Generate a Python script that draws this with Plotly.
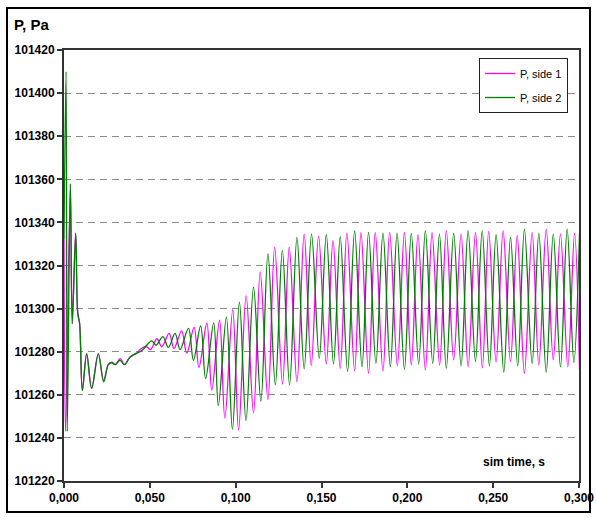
import plotly.graph_objects as go

# ---- data ----
t_side1 = [0, 0.0009, 0.0037, 0.0048, 0.0068, 0.0080, 0.0091, 0.0107, 0.0132, 0.0161,
           0.0200, 0.0231, 0.0258, 0.0280, 0.0300, 0.0327, 0.0352, 0.0380, 0.0400, 0.0420, 0.0443,
           0.0478, 0.0504, 0.0541, 0.0570, 0.0612, 0.0641, 0.0685, 0.0715, 0.0758, 0.0786,
           0.0832, 0.0861, 0.0906, 0.0937, 0.0983, 0.1017, 0.1061, 0.1104, 0.1143, 0.1188,
           0.1227, 0.1273, 0.1312, 0.1357, 0.1399, 0.1440, 0.1483, 0.1528, 0.1567, 0.1609,
           0.1648, 0.1693, 0.1730, 0.1774, 0.1813, 0.1858, 0.1897, 0.1942, 0.1983, 0.2023,
           0.2062, 0.2105, 0.2144, 0.2188, 0.2227, 0.2270, 0.2313, 0.2354, 0.2397, 0.2437,
           0.2474, 0.2517, 0.2558, 0.2601, 0.2640, 0.2682, 0.2727, 0.2766, 0.2809, 0.2850,
           0.2892, 0.2935, 0.2974, 0.3003]
p_side1 = [101332, 101243, 101357, 101293, 101335, 101298, 101293, 101262, 101279, 101263,
           101279, 101266.5, 101274, 101275, 101274, 101276.8, 101274, 101277, 101278.3, 101279, 101281,
           101282.5, 101281, 101286, 101282.3, 101288.5, 101281.5, 101289.7, 101279.3, 101291.3, 101272.7,
           101293.2, 101262.2, 101294.6, 101249.2, 101299.5, 101243.7, 101306, 101251.5, 101317, 101257.7,
           101328.5, 101265, 101328.5, 101266, 101334.5, 101273.6, 101333.5, 101274.3, 101331.5, 101272.3,
           101335, 101271.2, 101335.2, 101270, 101335.2, 101271, 101335.4, 101273.5, 101335.2, 101273.8,
           101334.3, 101271.5, 101335.2, 101273.8, 101336.2, 101276.2, 101334.6, 101273, 101335.2, 101272.5,
           101335.8, 101275.2, 101336.2, 101275.4, 101333.8, 101270, 101335.4, 101273.8, 101336.9, 101276.2,
           101334.6, 101273, 101334.9, 101272]

t_side2 = [0, 0.0012, 0.0019, 0.0037, 0.0048, 0.0068, 0.0080, 0.0091, 0.0107, 0.0132,
           0.0161, 0.0200, 0.0231, 0.0258, 0.0278, 0.0297, 0.0327, 0.0352, 0.0385, 0.0414,
           0.0443, 0.0466,
           0.0511, 0.0536, 0.0576, 0.0608, 0.0647, 0.0676, 0.0725, 0.0754, 0.0796, 0.0825,
           0.0872, 0.0899, 0.0946, 0.0981, 0.1022, 0.1060, 0.1104, 0.1147, 0.1188, 0.1231,
           0.1272, 0.1314, 0.1357, 0.1399, 0.1442, 0.1487, 0.1528, 0.1570, 0.1609, 0.1652,
           0.1693, 0.1736, 0.1774, 0.1817, 0.1858, 0.1901, 0.1940, 0.1983, 0.2023, 0.2066,
           0.2105, 0.2148, 0.2187, 0.2227, 0.2270, 0.2313, 0.2354, 0.2397, 0.2436, 0.2478,
           0.2517, 0.2562, 0.2601, 0.2643, 0.2682, 0.2727, 0.2766, 0.2809, 0.2850, 0.2892,
           0.2931, 0.2970, 0.3003]
p_side2 = [101332, 101410, 101243, 101358, 101293, 101335, 101298, 101293, 101262, 101279,
           101263, 101279, 101266, 101274, 101275, 101274, 101276, 101274, 101277.5, 101279,
           101280, 101281.5,
           101285, 101283, 101287, 101282, 101288.5, 101281, 101290.8, 101276, 101292, 101267.5,
           101293.4, 101255, 101296, 101244, 101303, 101248, 101310, 101257, 101325.5, 101264.6,
           101327, 101264.6, 101333, 101272, 101334.6, 101277, 101334.3, 101274.3, 101333.4, 101270.8,
           101336, 101273, 101335.4, 101274.6, 101335, 101273, 101335, 101271.8, 101334.9, 101274.3,
           101336.2, 101274.6, 101334.6, 101272.3, 101334.9, 101273.5, 101336.2, 101275.4, 101336.2, 101273.5,
           101334.3, 101270.5, 101333, 101273.5, 101336.9, 101274.6, 101334.9, 101270.5, 101334.6, 101273,
           101336.9, 101275, 101335]

x_tickvals = [0, 0.05, 0.10, 0.15, 0.20, 0.25, 0.30]
x_ticktext = ["0,000", "0,050", "0,100", "0,150", "0,200", "0,250", "0,300"]
y_tickvals = [101220, 101240, 101260, 101280, 101300, 101320, 101340, 101360, 101380, 101400, 101420]
y_ticktext = [str(v) for v in y_tickvals]

FONT = "Liberation Sans, Arial, sans-serif"

fig = go.Figure()
fig.add_trace(go.Scatter(x=t_side1, y=p_side1, mode="lines", name="P, side 1",
                         line=dict(color="#FF00FF", width=1.3, shape="spline", smoothing=1.0),
                         legendgroup="a"))
fig.add_trace(go.Scatter(x=t_side2, y=p_side2, mode="lines", name="P, side 2",
                         line=dict(color="#008000", width=1.3, shape="spline", smoothing=1.0),
                         legendgroup="b"))

W, H = 596, 518
L, R, T, B = 64, 17, 50, 37
pw, ph = W - L - R, H - T - B

def px(x):
    return (x - L) / pw

def py(y):
    return (H - B - y) / ph

fig.update_layout(
    width=W, height=H,
    margin=dict(l=L, r=R, t=T, b=B, autoexpand=False),
    paper_bgcolor="white", plot_bgcolor="white",
    font=dict(family=FONT, size=12, color="black"),
    showlegend=True,
    legend=dict(x=px(479), y=py(58), xanchor="left", yanchor="top",
                bgcolor="white", bordercolor="#222", borderwidth=1,
                font=dict(family=FONT, size=11, color="black"),
                itemwidth=30, tracegroupgap=5),
    xaxis=dict(range=[0, 0.3], tickvals=x_tickvals, ticktext=x_ticktext,
               showgrid=False, zeroline=False, automargin=False,
               showline=True, linecolor="#333", linewidth=2, mirror=True,
               ticks="outside", ticklen=5, tickcolor="#333", tickwidth=1.5,
               tickfont=dict(family=FONT, size=12, color="black", weight="bold")),
    yaxis=dict(range=[101220, 101420], tickvals=y_tickvals, ticktext=y_ticktext,
               showgrid=True, gridcolor="#8c8c8c", gridwidth=1.2, griddash="7px,5px",
               zeroline=False, automargin=False,
               showline=True, linecolor="#333", linewidth=2, mirror=True,
               ticks="outside", ticklen=5, tickcolor="#333", tickwidth=1.5,
               tickfont=dict(family=FONT, size=12, color="black", weight="bold")),
    shapes=[dict(type="rect", xref="paper", yref="paper",
                 x0=px(7), x1=px(590), y0=py(512), y1=py(8),
                 line=dict(color="black", width=2), fillcolor="rgba(0,0,0,0)", layer="above")],
    annotations=[
        dict(text="P, Pa", xref="paper", yref="paper", x=px(12), y=py(25),
             xanchor="left", yanchor="middle", showarrow=False,
             font=dict(family=FONT, size=15, color="black", weight="bold")),
        dict(text="sim time, s", xref="paper", yref="paper", x=px(547), y=py(462),
             xanchor="right", yanchor="middle", showarrow=False,
             font=dict(family=FONT, size=12, color="black", weight="bold")),
    ],
)

fig.write_html("out.html",
               config={"displayModeBar": False},
               post_script="document.body.style.margin='0px';document.body.style.overflow='hidden';")
